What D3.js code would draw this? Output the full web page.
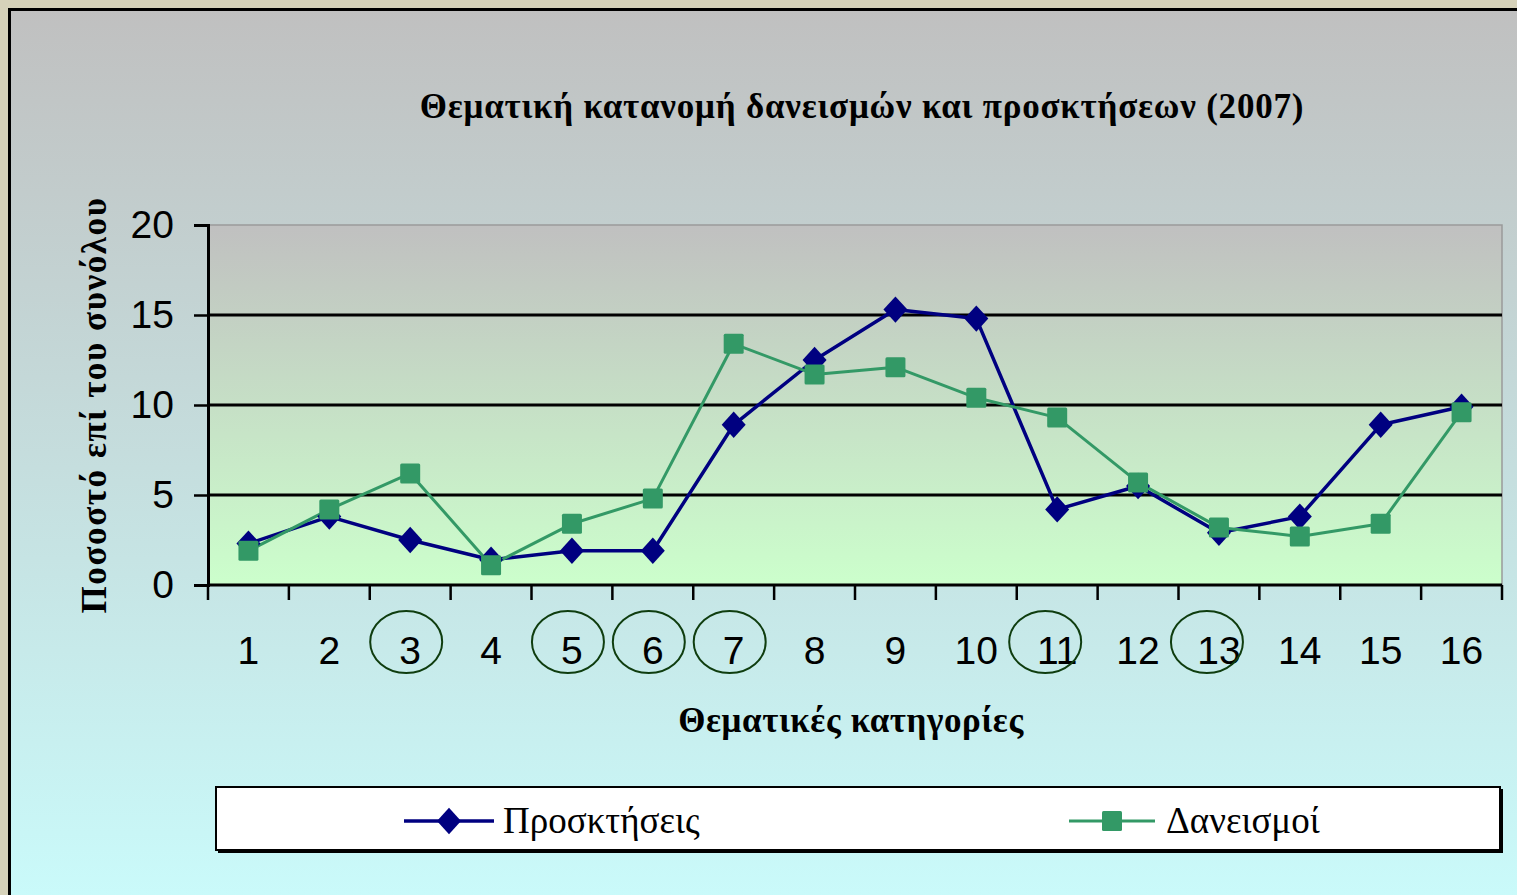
<!DOCTYPE html>
<html>
<head>
<meta charset="utf-8">
<script src="https://cdn.jsdelivr.net/npm/d3@7"></script>
<style>
  html, body { margin: 0; padding: 0; background: #d6d2ba; overflow: hidden; }
  svg { display: block; }
</style>
</head>
<body>
<div id="chart"></div>
<script>
// ---- data ----
const categories = ['1', '2', '3', '4', '5', '6', '7', '8', '9', '10', '11', '12', '13', '14', '15', '16'];
const acquisitions = [2.3, 3.8, 2.5, 1.4, 1.9, 1.9, 8.9, 12.5, 15.3, 14.8, 4.2, 5.5, 2.9, 3.8, 8.9, 9.9];
const loans = [1.9, 4.2, 6.2, 1.1, 3.4, 4.8, 13.4, 11.7, 12.1, 10.4, 9.3, 5.7, 3.2, 2.7, 3.4, 9.6];
const yTicks = [0, 5, 10, 15, 20];
const circledCategories = ['3', '5', '6', '7', '11', '13'];
const seriesNames = ['Προσκτήσεις', 'Δανεισμοί'];
const titleText = 'Θεματική κατανομή δανεισμών και προσκτήσεων (2007)';
const xTitle = 'Θεματικές κατηγορίες';
const yTitle = 'Ποσοστό επί του συνόλου';

(function () {
  const W = 1517, H = 895;
  const COLORS = {
    blue: '#000080',
    green: '#339966',
    ring: '#0f3d0f',
  };
  const SERIF = '"Liberation Serif", "Times New Roman", serif';
  const SANS = '"Liberation Sans", Arial, sans-serif';

  const plot = { left: 208, right: 1502, top: 225, bottom: 585 };

  const svg = d3.select('#chart').append('svg')
    .attr('width', W).attr('height', H);

  const defs = svg.append('defs');
  const outerGrad = defs.append('linearGradient').attr('id', 'outerGrad')
    .attr('x1', 0).attr('y1', 0).attr('x2', 0).attr('y2', 1);
  outerGrad.append('stop').attr('offset', '0%').attr('stop-color', '#c0c0c0');
  outerGrad.append('stop').attr('offset', '100%').attr('stop-color', '#cafcfc');
  const plotGrad = defs.append('linearGradient').attr('id', 'plotGrad')
    .attr('x1', 0).attr('y1', 0).attr('x2', 0).attr('y2', 1);
  plotGrad.append('stop').attr('offset', '0%').attr('stop-color', '#c0c0c0');
  plotGrad.append('stop').attr('offset', '100%').attr('stop-color', '#ccffcc');

  // chart area with black frame (runs off the right and bottom edges)
  svg.append('rect')
    .attr('x', 9.5).attr('y', 9.5).attr('width', W + 20).attr('height', H + 20)
    .attr('fill', 'url(#outerGrad)').attr('stroke', '#000').attr('stroke-width', 3);

  const x = d3.scaleBand().domain(categories).range([plot.left, plot.right]).padding(0);
  const y = d3.scaleLinear().domain([0, 20]).range([plot.bottom, plot.top]);
  const cx = d => x(d) + x.bandwidth() / 2;

  // plot area
  svg.append('rect')
    .attr('x', plot.left).attr('y', plot.top)
    .attr('width', plot.right - plot.left).attr('height', plot.bottom - plot.top)
    .attr('fill', 'url(#plotGrad)').attr('stroke', '#9a9a9a').attr('stroke-width', 1.5);

  // gridlines
  svg.append('g').selectAll('line')
    .data(yTicks.filter(t => t > 0 && t < 20))
    .join('line')
    .attr('x1', plot.left).attr('x2', plot.right)
    .attr('y1', d => y(d)).attr('y2', d => y(d))
    .attr('stroke', '#000').attr('stroke-width', 2.8);

  // y axis
  const yAxisG = svg.append('g').attr('transform', `translate(${plot.left},0)`)
    .call(d3.axisLeft(y).tickValues(yTicks).tickSize(14).tickPadding(20));
  yAxisG.select('.domain').attr('stroke', '#000').attr('stroke-width', 3);
  yAxisG.selectAll('line').attr('stroke', '#000').attr('stroke-width', 2.5);
  yAxisG.selectAll('text').attr('font-family', SANS).attr('font-size', '39px').attr('fill', '#000');

  // x axis: ticks at category boundaries, labels centred in each band
  const edges = categories.map(c => x(c)).concat([plot.right]);
  svg.append('line')
    .attr('x1', plot.left).attr('x2', plot.right)
    .attr('y1', plot.bottom).attr('y2', plot.bottom)
    .attr('stroke', '#000').attr('stroke-width', 3);
  svg.append('g').selectAll('line').data(edges).join('line')
    .attr('x1', d => d).attr('x2', d => d)
    .attr('y1', plot.bottom).attr('y2', plot.bottom + 15)
    .attr('stroke', '#000').attr('stroke-width', 2.5);
  svg.append('g').selectAll('text').data(categories).join('text')
    .attr('x', d => cx(d)).attr('y', 664)
    .attr('text-anchor', 'middle')
    .attr('font-family', SANS).attr('font-size', '39px').attr('fill', '#000')
    .text(d => d);

  // hand-drawn rings around highlighted categories
  svg.append('g').selectAll('ellipse').data(circledCategories).join('ellipse')
    .attr('cx', d => cx(d) - (d.length > 1 ? 12 : 4)).attr('cy', 642)
    .attr('rx', 36).attr('ry', 31)
    .attr('fill', 'none').attr('stroke', COLORS.ring).attr('stroke-width', 2);

  // series
  const diamond = s => `M0,${-s * 0.55}L${s * 0.5},0L0,${s * 0.55}L${-s * 0.5},0Z`;
  const series = [
    { name: seriesNames[0], values: acquisitions, color: COLORS.blue, width: 3.5, marker: 'diamond' },
    { name: seriesNames[1], values: loans, color: COLORS.green, width: 3, marker: 'square' },
  ];
  const line = d3.line().x((d, i) => cx(categories[i])).y(d => y(d));

  function drawMarker(sel, kind, color) {
    if (kind === 'diamond') {
      sel.append('path').attr('d', diamond(24)).attr('fill', color);
    } else {
      sel.append('rect').attr('x', -10).attr('y', -10).attr('width', 20).attr('height', 20)
        .attr('rx', 1.5).attr('fill', color);
    }
  }

  series.forEach(s => {
    svg.append('path').datum(s.values)
      .attr('d', line).attr('fill', 'none')
      .attr('stroke', s.color).attr('stroke-width', s.width).attr('stroke-linejoin', 'round');
  });
  series.forEach(s => {
    svg.append('g').selectAll('g').data(s.values).join('g')
      .attr('transform', (d, i) => `translate(${cx(categories[i])},${y(d)})`)
      .each(function () { drawMarker(d3.select(this), s.marker, s.color); });
  });

  // titles
  svg.append('text')
    .attr('x', 862).attr('y', 118).attr('text-anchor', 'middle')
    .attr('font-family', SERIF).attr('font-weight', 'bold').attr('font-size', '35px')
    .attr('letter-spacing', '0.8px')
    .text(titleText);
  svg.append('text')
    .attr('x', 851).attr('y', 732).attr('text-anchor', 'middle')
    .attr('font-family', SERIF).attr('font-weight', 'bold').attr('font-size', '35px')
    .attr('letter-spacing', '0.6px')
    .text(xTitle);
  svg.append('text')
    .attr('transform', 'translate(106,405) rotate(-90)').attr('text-anchor', 'middle')
    .attr('font-family', SERIF).attr('font-weight', 'bold').attr('font-size', '35px')
    .attr('letter-spacing', '1.6px')
    .text(yTitle);

  // legend
  const lg = svg.append('g');
  lg.append('rect').attr('x', 218).attr('y', 789).attr('width', 1285).attr('height', 64).attr('fill', '#000');
  lg.append('rect').attr('x', 216).attr('y', 787).attr('width', 1284).attr('height', 63)
    .attr('fill', '#fff').attr('stroke', '#000').attr('stroke-width', 2);
  const legendX = [{ x1: 404, x2: 494, tx: 503 }, { x1: 1069, x2: 1155, tx: 1166 }];
  series.forEach((s, i) => {
    const p = legendX[i];
    const item = lg.append('g');
    item.append('line').attr('x1', p.x1).attr('x2', p.x2).attr('y1', 821).attr('y2', 821)
      .attr('stroke', s.color).attr('stroke-width', s.width);
    const m = item.append('g').attr('transform', `translate(${(p.x1 + p.x2) / 2},821)`);
    drawMarker(m, s.marker, s.color);
    item.append('text').attr('x', p.tx).attr('y', 833)
      .attr('font-family', SERIF).attr('font-size', '37px').attr('fill', '#000')
      .text(s.name);
  });
})();
</script>
</body>
</html>
